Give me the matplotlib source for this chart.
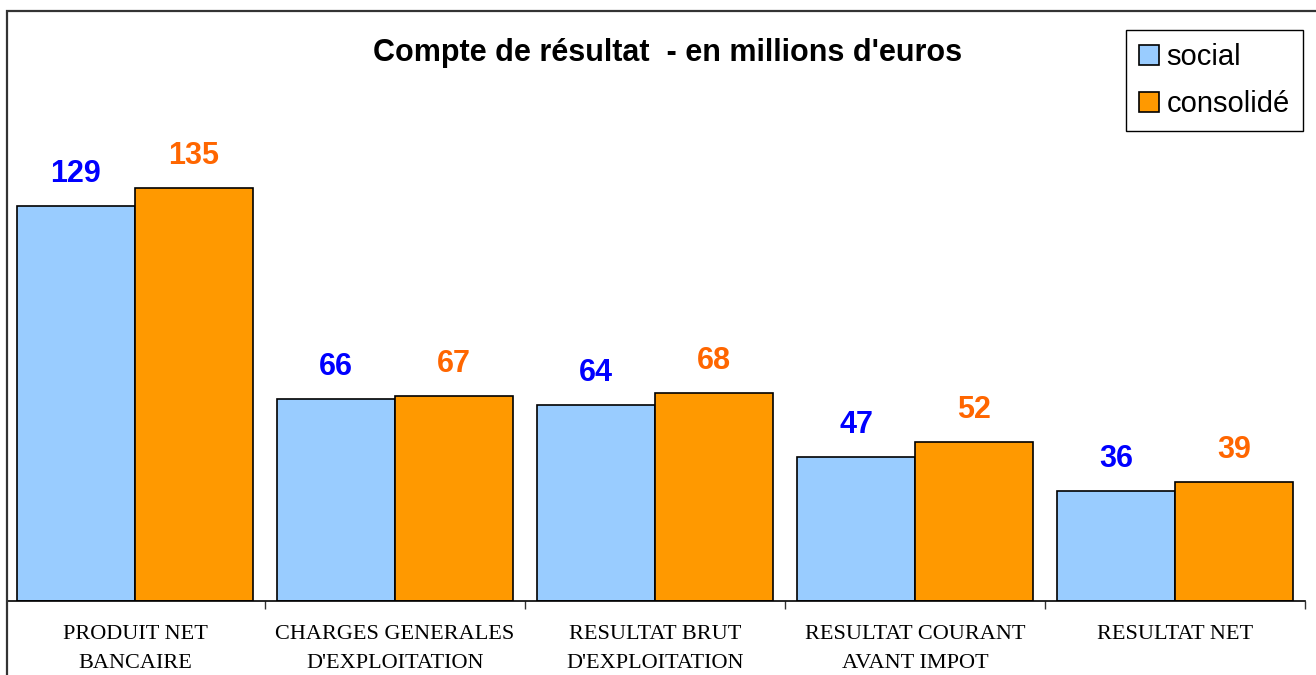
import numpy as np
import matplotlib
matplotlib.use("Agg")
import matplotlib.pyplot as plt
from matplotlib.patches import Patch, Rectangle

categories = ["PRODUIT NET\nBANCAIRE", "CHARGES GENERALES\nD'EXPLOITATION",
              "RESULTAT BRUT\nD'EXPLOITATION", "RESULTAT COURANT\nAVANT IMPOT",
              "RESULTAT NET"]
social = [129, 66, 64, 47, 36]
consolide = [135, 67, 68, 52, 39]
series_names = ["social", "consolidé"]

W, H = 1316, 675
fig = plt.figure(figsize=(W / 100, H / 100), dpi=100)

# cadre du graphique (bord gauche et haut visibles)
fig.patches.append(Rectangle((7 / W, -0.05), 1.1, (H - 11) / H + 0.05,
                             transform=fig.transFigure, fill=False,
                             edgecolor="#333333", linewidth=1.6))

ax = fig.add_axes([7 / W, (H - 601) / H, 1298 / W, 590 / H])

x = np.arange(len(categories))
bw = 118 / 260
b1 = ax.bar(x - bw / 2, social, bw, color="#99CCFF", edgecolor="black", linewidth=1.2)
b2 = ax.bar(x + bw / 2, consolide, bw, color="#FF9900", edgecolor="black", linewidth=1.2)

for bars, vals, col in [(b1, social, "#0000FF"), (b2, consolide, "#FF6600")]:
    for r, v in zip(bars, vals):
        ax.annotate(str(v), (r.get_x() + r.get_width() / 2, v),
                    xytext=(0, 23), textcoords="offset points",
                    ha="center", va="center", fontsize=22, fontweight="bold",
                    color=col, family="Liberation Sans")

ax.set_xlim(-0.5 + 2 / 260, len(categories) - 0.5)
ax.set_ylim(0, 590 / (413 / 135))

for s in ["left", "right", "top"]:
    ax.spines[s].set_visible(False)
ax.spines["bottom"].set_linewidth(1.2)
ax.set_yticks([])

ax.set_xticks(x)
ax.set_xticklabels(categories, family="Liberation Serif", fontsize=16,
                   linespacing=1.75)
ax.tick_params(axis="x", which="major", length=0, pad=17)
ax.set_xticks(np.arange(1, len(categories) + 1) - 0.5, minor=True)
ax.tick_params(axis="x", which="minor", length=6, width=1, color="#333333")

fig.text(668 / W, (H - 53) / H, "Compte de résultat  - en millions d'euros",
         ha="center", va="center", fontsize=22, fontweight="bold",
         family="Liberation Sans")

handles = [Patch(facecolor="#99CCFF", edgecolor="black", linewidth=1.2),
           Patch(facecolor="#FF9900", edgecolor="black", linewidth=1.2)]
leg = fig.legend(handles, series_names, loc="upper right",
                 bbox_to_anchor=(1303 / W, (H - 30) / H), borderaxespad=0,
                 fancybox=False, edgecolor="black", framealpha=1,
                 prop={"family": "Liberation Sans", "size": 21},
                 handlelength=0.7, handleheight=0.7, handletextpad=0.25,
                 labelspacing=0.65, borderpad=0.45)
leg.get_frame().set_linewidth(1.0)

fig.savefig("out.png", dpi=100)
